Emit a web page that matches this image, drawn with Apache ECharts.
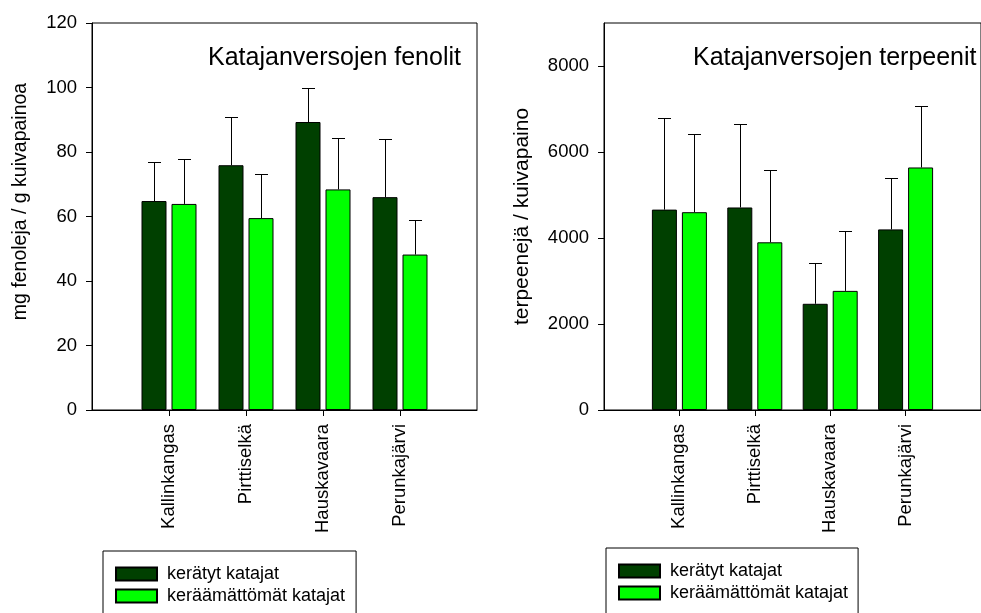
<!DOCTYPE html>
<html><head><meta charset="utf-8">
<script src="https://cdn.jsdelivr.net/npm/echarts@6/dist/echarts.min.js"></script>
<style>html,body{margin:0;padding:0;background:#fff}#c{width:981px;height:613px}</style>
</head><body><div id="c"></div>
<script>
const categories = ['Kallinkangas', 'Pirttiselkä', 'Hauskavaara', 'Perunkajärvi'];
const seriesNames = ['kerätyt katajat', 'keräämättömät katajat'];
const fenolitKeratyt = [64.8, 75.9, 89.3, 66.0];
const fenolitKeratytSd = [12.0, 15.1, 10.7, 18.0];
const fenolitKeraamattomat = [63.9, 59.5, 68.4, 48.2];
const fenolitKeraamattomatSd = [14.0, 13.8, 15.9, 10.7];
const terpeenitKeratyt = [4660, 4710, 2470, 4200];
const terpeenitKeratytSd = [2140, 1930, 960, 1190];
const terpeenitKeraamattomat = [4600, 3900, 2770, 5640];
const terpeenitKeraamattomatSd = [1820, 1680, 1400, 1440];
const fenolitTicks = [0, 20, 40, 60, 80, 100, 120];
const terpeenitTicks = [0, 2000, 4000, 6000, 8000];

const FONT = "'Liberation Sans', Arial, sans-serif";
const DARK = '#004000', LIGHT = '#00ff00';
const BAR_W = 25, GAP = 5, CAP = 6.5;
const OFF = (BAR_W + GAP) / 2;
const axisCats = [''].concat(categories, ['']);
const inner = (i) => i > 0 && i < axisCats.length - 1;
const pad = (arr) => ['-'].concat(arr, ['-']);
const errData = (vals, sd) => vals.map((v, i) => [i + 1, v, sd[i]]);

function errRender(offset) {
  return function (params, api) {
    const x = api.value(0), v = api.value(1), e = api.value(2);
    const p0 = api.coord([x, v]);
    const p1 = api.coord([x, v + e]);
    const cx = Math.round(p0[0] + offset) + 0.5;
    const yTop = Math.round(p1[1]) + 0.5;
    return {
      type: 'group',
      children: [
        { type: 'line', shape: { x1: cx, y1: p0[1], x2: cx, y2: yTop }, style: { stroke: '#000', lineWidth: 1 } },
        { type: 'line', shape: { x1: cx - CAP, y1: yTop, x2: cx + CAP, y2: yTop }, style: { stroke: '#000', lineWidth: 1 } }
      ]
    };
  };
}

function xAxisDef(gi) {
  return {
    type: 'category', gridIndex: gi, data: axisCats, boundaryGap: false,
    axisLine: { lineStyle: { color: '#000', width: 1 } },
    axisTick: { length: 6, interval: (i) => inner(i), lineStyle: { color: '#000' } },
    axisLabel: { rotate: 90, margin: 14, interval: (i) => inner(i), fontSize: 18.5, color: '#000', fontFamily: FONT },
    splitLine: { show: false }
  };
}

function legendDef(left, top, padRight) {
  return {
    data: seriesNames, left: left, top: top, height: 200, orient: 'vertical',
    padding: [14, padRight, 40, 12],
    itemWidth: 41, itemHeight: 13, itemGap: 4, icon: 'rect', selectedMode: false,
    borderColor: '#000', borderWidth: 1, borderRadius: 0, backgroundColor: '#fff',
    textStyle: { fontSize: 18, color: '#000', fontFamily: FONT, padding: [0, 0, 0, 5] }
  };
}

const option = {
  animation: false,
  backgroundColor: '#fff',
  title: [
    { text: 'Katajanversojen fenolit', left: 208, top: 46, padding: 0,
      textStyle: { fontSize: 25, fontWeight: 'normal', color: '#000', fontFamily: FONT } },
    { text: 'Katajanversojen terpeenit', left: 693, top: 46, padding: 0,
      textStyle: { fontSize: 25, fontWeight: 'normal', color: '#000', fontFamily: FONT } }
  ],
  grid: [
    { left: 92, top: 23, width: 385, height: 387, show: true, borderColor: '#000', borderWidth: 1, containLabel: false },
    { left: 604, top: 23, width: 385, height: 387, show: true, borderColor: '#000', borderWidth: 1, containLabel: false }
  ],
  xAxis: [xAxisDef(0), xAxisDef(1)],
  yAxis: [
    { type: 'value', gridIndex: 0, min: 0, max: 120, interval: 20,
      name: 'mg fenoleja / g kuivapainoa', nameLocation: 'middle', nameGap: 61,
      nameTextStyle: { fontSize: 19.5, color: '#000', fontFamily: FONT, padding: [0, 0, 0, 30] },
      axisLine: { show: true, lineStyle: { color: '#000' } },
      axisTick: { show: true, length: 6, customValues: fenolitTicks, lineStyle: { color: '#000' } },
      axisLabel: { margin: 15, fontSize: 18.5, color: '#000', fontFamily: FONT, customValues: fenolitTicks },
      splitLine: { show: false } },
    { type: 'value', gridIndex: 1, min: 0, max: 9000, interval: 1000,
      name: 'terpeenejä / kuivapaino', nameLocation: 'middle', nameGap: 71,
      nameTextStyle: { fontSize: 21, color: '#000', fontFamily: FONT },
      axisLine: { show: true, lineStyle: { color: '#000' } },
      axisTick: { show: true, length: 6, customValues: terpeenitTicks, lineStyle: { color: '#000' } },
      axisLabel: { margin: 15, fontSize: 18.5, color: '#000', fontFamily: FONT, customValues: terpeenitTicks,
        formatter: (v) => String(v) },
      splitLine: { show: false } }
  ],
  legend: [legendDef(103, 551, 11), legendDef(606, 548, 10)],
  series: [
    { name: seriesNames[0], type: 'bar', xAxisIndex: 0, yAxisIndex: 0, data: pad(fenolitKeratyt),
      barWidth: BAR_W, barGap: (GAP / BAR_W * 100) + '%', itemStyle: { color: DARK, borderColor: '#000', borderWidth: 1 } },
    { name: seriesNames[1], type: 'bar', xAxisIndex: 0, yAxisIndex: 0, data: pad(fenolitKeraamattomat),
      barWidth: BAR_W, barGap: (GAP / BAR_W * 100) + '%', itemStyle: { color: LIGHT, borderColor: '#000', borderWidth: 1 } },
    { name: seriesNames[0], type: 'bar', xAxisIndex: 1, yAxisIndex: 1, data: pad(terpeenitKeratyt),
      barWidth: BAR_W, barGap: (GAP / BAR_W * 100) + '%', itemStyle: { color: DARK, borderColor: '#000', borderWidth: 1 } },
    { name: seriesNames[1], type: 'bar', xAxisIndex: 1, yAxisIndex: 1, data: pad(terpeenitKeraamattomat),
      barWidth: BAR_W, barGap: (GAP / BAR_W * 100) + '%', itemStyle: { color: LIGHT, borderColor: '#000', borderWidth: 1 } },
    { name: 'err1', type: 'custom', xAxisIndex: 0, yAxisIndex: 0, renderItem: errRender(-OFF), data: errData(fenolitKeratyt, fenolitKeratytSd), z: 3 },
    { name: 'err2', type: 'custom', xAxisIndex: 0, yAxisIndex: 0, renderItem: errRender(OFF), data: errData(fenolitKeraamattomat, fenolitKeraamattomatSd), z: 3 },
    { name: 'err3', type: 'custom', xAxisIndex: 1, yAxisIndex: 1, renderItem: errRender(-OFF), data: errData(terpeenitKeratyt, terpeenitKeratytSd), z: 3 },
    { name: 'err4', type: 'custom', xAxisIndex: 1, yAxisIndex: 1, renderItem: errRender(OFF), data: errData(terpeenitKeraamattomat, terpeenitKeraamattomatSd), z: 3 }
  ]
};
const chart = echarts.init(document.getElementById('c'), null, { renderer: 'canvas' });
chart.setOption(option);
</script>
</body></html>
